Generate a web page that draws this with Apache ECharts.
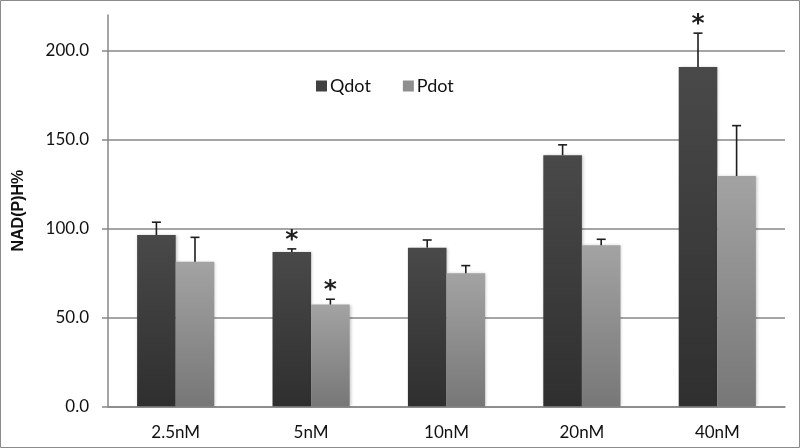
<!DOCTYPE html>
<html><head><meta charset="utf-8">
<script src="https://cdn.jsdelivr.net/npm/echarts@6/dist/echarts.min.js"></script>
<style>html,body{margin:0;padding:0;background:#fff}#c{width:800px;height:448px}</style>
</head><body><div id="c"></div>
<script>
const categories = ['2.5nM', '5nM', '10nM', '20nM', '40nM'];
const qdot = [96.3, 86.8, 89.2, 141.2, 190.7];
const qdotErr = [7.2, 1.7, 4.3, 5.8, 19.1];
const qdotSig = [false, true, false, false, true];
const pdot = [81.2, 57.2, 74.8, 90.5, 129.5];
const pdotErr = [13.8, 3.0, 4.3, 3.4, 28.3];
const pdotSig = [false, true, false, false, false];
const yTicks = [0, 50, 100, 150, 200];

const FONT = 'Lato';
const GAP = 0.43;
const qColor = new echarts.graphic.LinearGradient(0, 0, 0, 1, [{offset: 0, color: '#494949'}, {offset: 1, color: '#2f2f2f'}]);
const pColor = new echarts.graphic.LinearGradient(0, 0, 0, 1, [{offset: 0, color: '#a3a3a3'}, {offset: 1, color: '#777777'}]);

function errSeries(vals, errs, sig, side) {
  return {
    type: 'custom',
    clip: false,
    z: 5,
    data: vals.map((v, i) => [i, v, v + errs[i], sig[i] ? 1 : 0]),
    encode: {x: 0, y: [1, 2]},
    renderItem: function (params, api) {
      const i = api.value(0);
      const band = api.size([1, 0])[0];
      const off = side * band * (1 - GAP) / 4;
      const base = api.coord([i, api.value(1)]);
      const top = api.coord([i, api.value(2)]);
      const x = base[0] + off;
      const children = [
        {type: 'line', shape: {x1: x, y1: base[1], x2: x, y2: top[1]}, style: {stroke: '#1e1e1e', lineWidth: 1.6}},
        {type: 'line', shape: {x1: x - 4.5, y1: top[1], x2: x + 4.5, y2: top[1]}, style: {stroke: '#1e1e1e', lineWidth: 1.6}}
      ];
      if (api.value(3) === 1) {
        children.push({type: 'text', x: x, y: top[1] + 4, style: {text: '*', fontSize: 25, fontWeight: 'bold', fontFamily: 'DejaVu Sans', fill: '#1e1e1e', align: 'center', verticalAlign: 'bottom'}});
      }
      return {type: 'group', children: children};
    }
  };
}

const chart = echarts.init(document.getElementById('c'), null, {renderer: 'canvas'});
chart.setOption({
  animation: false,
  backgroundColor: '#fff',
  textStyle: {fontFamily: FONT},
  graphic: [{type: 'rect', shape: {x: 0.5, y: 0.5, width: 799, height: 447}, style: {fill: 'none', stroke: '#8a8a8a', lineWidth: 1}, z: 100}],
  grid: {left: 108, right: 15, top: 15, bottom: 41.7, containLabel: false},
  legend: {
    left: 311, top: 72,
    itemWidth: 11, itemHeight: 11, itemGap: 32,
    icon: 'rect',
    textStyle: {fontFamily: FONT, fontSize: 18, color: '#111', padding: [0, 0, 0, -2]},
    data: [{name: 'Qdot', itemStyle: {color: '#404040'}}, {name: 'Pdot', itemStyle: {color: '#8e8e8e'}}]
  },
  xAxis: {
    type: 'category',
    data: categories,
    axisLine: {lineStyle: {color: '#868686', width: 1.5}},
    axisTick: {show: false},
    axisLabel: {fontFamily: FONT, fontSize: 17, color: '#111', margin: 18}
  },
  yAxis: {
    type: 'value',
    min: 0, max: 220, interval: 50,
    name: 'NAD(P)H%',
    nameLocation: 'middle',
    nameGap: 81,
    nameTextStyle: {fontFamily: 'Liberation Sans', fontWeight: 'bold', fontSize: 16, color: '#111'},
    axisLine: {show: true, lineStyle: {color: '#868686', width: 1.5}},
    axisTick: {show: true, length: 6, customValues: yTicks, lineStyle: {color: '#868686', width: 1.5}},
    axisLabel: {fontFamily: FONT, fontSize: 17, color: '#111', margin: 19, customValues: yTicks, formatter: v => v.toFixed(1)},
    splitLine: {show: true, lineStyle: {color: ['#878787', '#878787', '#878787', '#878787', '#878787', 'rgba(0,0,0,0)'], width: 1.5}}
  },
  series: [
    {name: 'Qdot', type: 'bar', data: qdot, barGap: '0%', barCategoryGap: '43%',
     itemStyle: {color: qColor, shadowColor: 'rgba(0,0,0,0.25)', shadowBlur: 3, shadowOffsetX: 1, shadowOffsetY: 0}},
    {name: 'Pdot', type: 'bar', data: pdot, barGap: '0%', barCategoryGap: '43%',
     itemStyle: {color: pColor, shadowColor: 'rgba(0,0,0,0.25)', shadowBlur: 3, shadowOffsetX: 1, shadowOffsetY: 0}},
    errSeries(qdot, qdotErr, qdotSig, -1),
    errSeries(pdot, pdotErr, pdotSig, 1)
  ]
});
</script></body></html>
